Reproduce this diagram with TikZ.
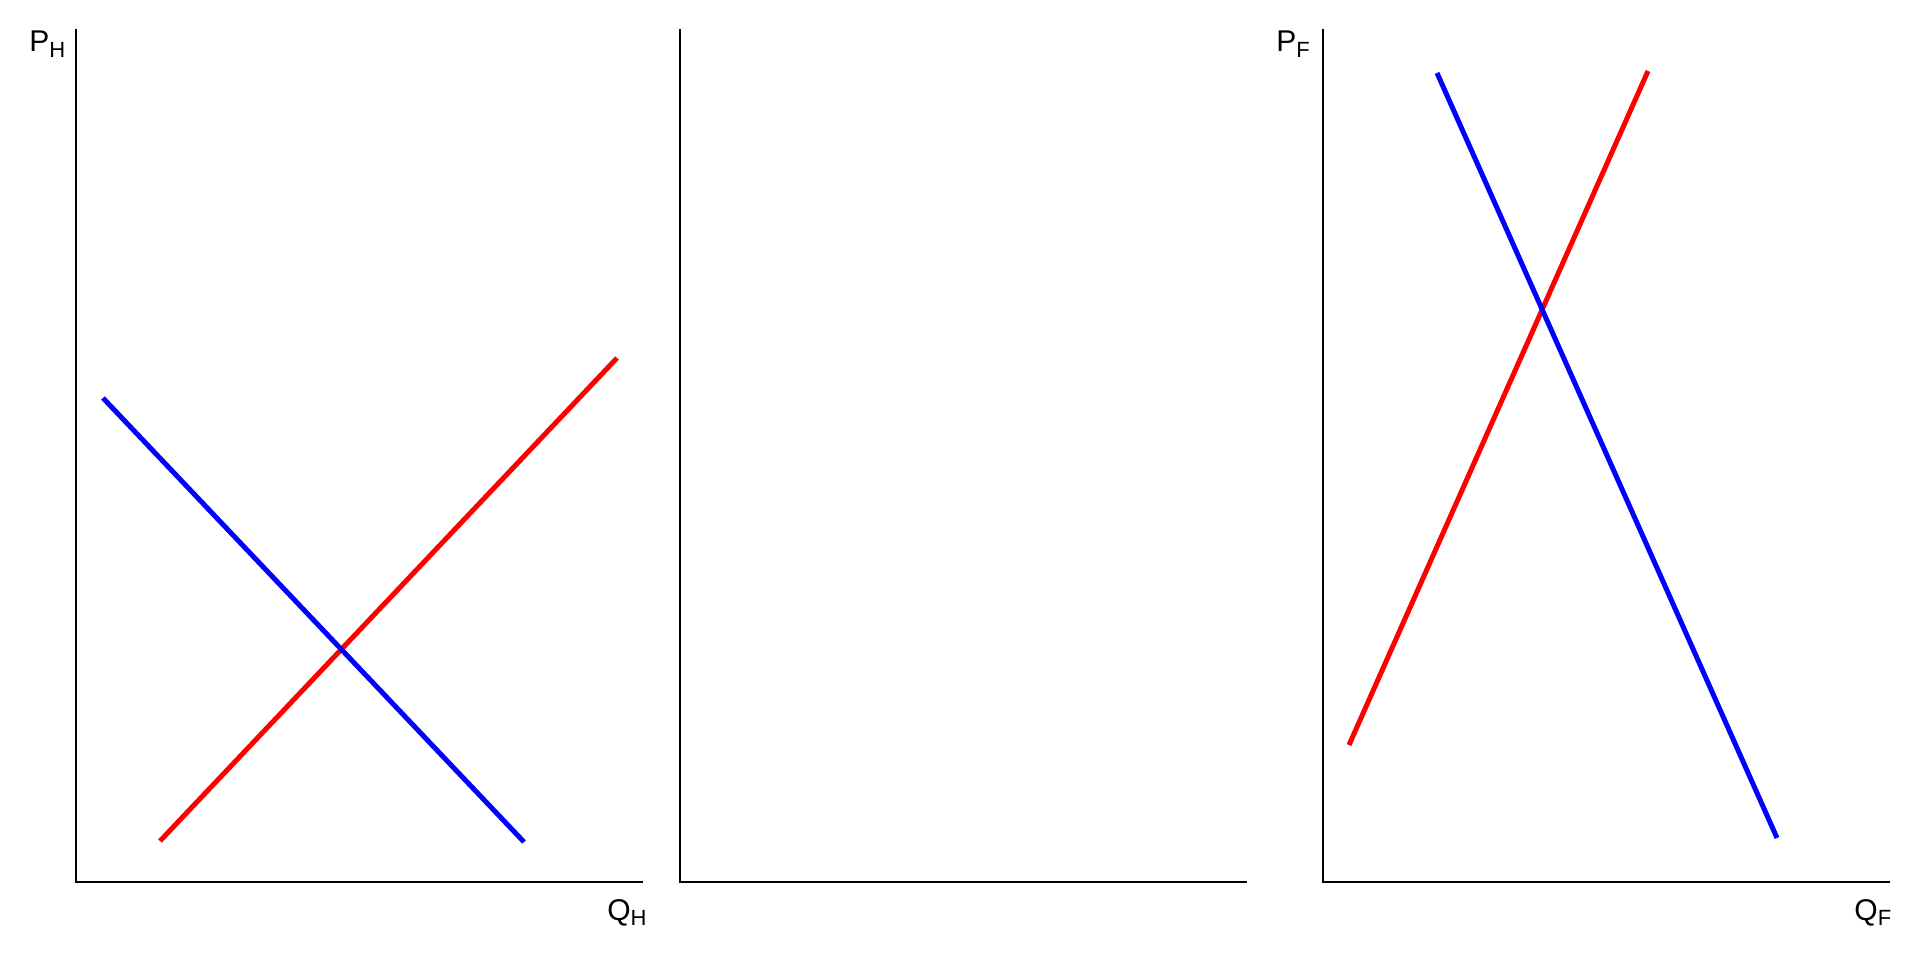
\documentclass[tikz,border=0pt]{standalone}
\usepackage{fontspec}
\setmainfont{Liberation Sans}
\newcommand\axlab[2]{{\fontsize{15}{15}\selectfont #1}\raisebox{-2.8pt}{\fontsize{11}{11}\selectfont #2}}
\begin{document}
\begin{tikzpicture}[x=0.5pt,y=0.5pt,
  axis/.style={line width=1.1pt, black},
  dem/.style={line width=2.5pt, blue},
  sup/.style={line width=2.5pt, red},
  lab/.style={inner sep=0pt, anchor=base west}]
\useasboundingbox (0,0) rectangle (1920,960);
% axes coordinates
\coordinate (o1) at (76,78);
\coordinate (y1) at (76,931);
\coordinate (x1) at (643,78);
\coordinate (o2) at (680,78);
\coordinate (y2) at (680,931);
\coordinate (x2) at (1247,78);
\coordinate (o3) at (1323,78);
\coordinate (y3) at (1323,931);
\coordinate (x3) at (1890,78);
\draw[axis] (y1) -- (o1) -- (x1);
\draw[axis] (y2) -- (o2) -- (x2);
\draw[axis] (y3) -- (o3) -- (x3);
% curves
\coordinate (d1a) at (103,562);
\coordinate (d1b) at (524,118);
\coordinate (s1a) at (160,119);
\coordinate (s1b) at (617,602);
\coordinate (d3a) at (1437,887);
\coordinate (d3b) at (1777,122);
\coordinate (s3a) at (1349,215);
\coordinate (s3b) at (1648,889);
\draw[sup] (s1a) -- (s1b);
\draw[dem] (d1a) -- (d1b);
\draw[sup] (s3a) -- (s3b);
\draw[dem] (d3a) -- (d3b);
% labels
\node[lab] (ph) at (29,908) {\axlab{P}{H}};
\node[lab] (qh) at (607,40) {\axlab{Q}{H}};
\node[lab] (pf) at (1276,908) {\axlab{P}{F}};
\node[lab] (qf) at (1854,40) {\axlab{Q}{F}};
\end{tikzpicture}
\end{document}
